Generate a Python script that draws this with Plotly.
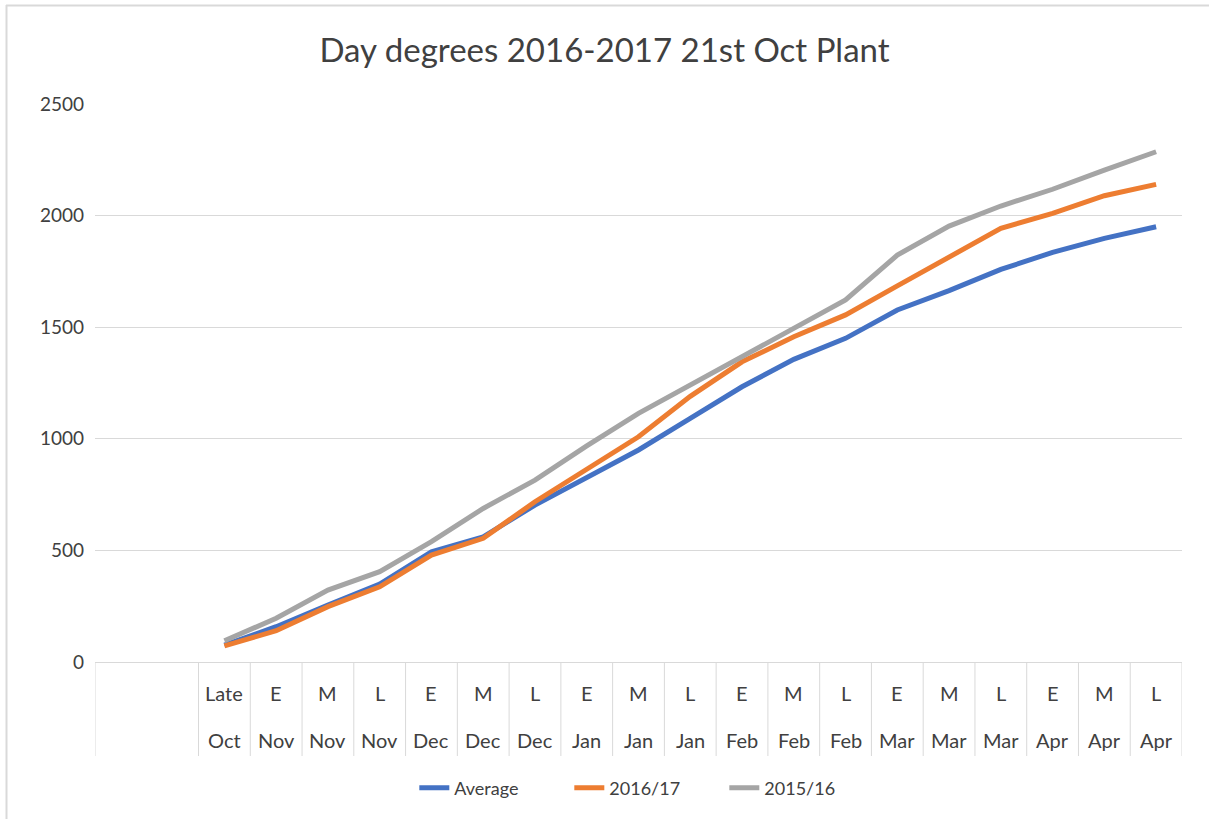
import plotly.graph_objects as go

# ---- data ----
period = ["", "", "Late", "E", "M", "L", "E", "M", "L", "E", "M", "L",
          "E", "M", "L", "E", "M", "L", "E", "M", "L"]
month = ["", "", "Oct", "Nov", "Nov", "Nov", "Dec", "Dec", "Dec", "Jan", "Jan", "Jan",
         "Feb", "Feb", "Feb", "Mar", "Mar", "Mar", "Apr", "Apr", "Apr"]
average = [None, None, 76, 158, 255, 349, 494, 561, 703, 825, 950, 1092,
           1233, 1356, 1450, 1577, 1664, 1759, 1835, 1898, 1950]
s2016_17 = [None, None, 72, 140, 248, 337, 479, 554, 718, 866, 1009, 1190,
            1345, 1457, 1555, 1685, 1816, 1943, 2010, 2089, 2140]
s2015_16 = [None, None, 95, 196, 322, 405, 539, 688, 815, 968, 1114, 1241,
            1368, 1495, 1622, 1823, 1953, 2043, 2118, 2204, 2286]
series_names = ["Average", "2016/17", "2015/16"]
series_colors = ["#4472C4", "#ED7D31", "#A5A5A5"]
y_ticks = [0, 500, 1000, 1500, 2000, 2500]

FONT = "Lato"
TXT = "#404040"

idx = list(range(len(period)))

fig = go.Figure()
for name, vals, col in zip(series_names, [average, s2016_17, s2015_16], series_colors):
    fig.add_trace(go.Scatter(x=idx, y=vals, mode="lines", name=name,
                             line=dict(color=col, width=5), connectgaps=False))

# plot area geometry in pixels (for paper-coordinate conversion)
W, H = 1209, 819
L, R, T, B = 95, 1182, 104, 662
pw, ph = R - L, B - T

def py(ypix):
    return (B - ypix) / ph

def px(xpix):
    return (xpix - L) / pw

shapes = []
# category dividers below the axis
bounds = [-0.5] + [i + 0.5 for i in range(1, len(period))]
for b in bounds:
    shapes.append(dict(type="line", xref="x", yref="paper", x0=b, x1=b,
                       y0=0, y1=py(756), line=dict(color="#D9D9D9", width=1)))
# outer chart border (top and left edges visible)
shapes.append(dict(type="line", xref="paper", yref="paper",
                   x0=px(6), x1=px(1209), y0=py(5.5), y1=py(5.5),
                   line=dict(color="#D9D9D9", width=2), layer="below"))
shapes.append(dict(type="line", xref="paper", yref="paper",
                   x0=px(6.5), x1=px(6.5), y0=py(5), y1=py(819),
                   line=dict(color="#D9D9D9", width=2), layer="below"))

annotations = []
for i, (p, m) in enumerate(zip(period, month)):
    if p:
        annotations.append(dict(x=i, y=py(693), xref="x", yref="paper", text=p,
                                showarrow=False, yanchor="middle",
                                font=dict(family=FONT, size=20, color=TXT)))
    if m:
        annotations.append(dict(x=i, y=py(740), xref="x", yref="paper", text=m,
                                showarrow=False, yanchor="middle",
                                font=dict(family=FONT, size=20, color=TXT)))

fig.update_layout(
    width=W, height=H,
    margin=dict(l=L, r=W - R, t=T, b=H - B),
    paper_bgcolor="white", plot_bgcolor="white",
    title=dict(text="Day degrees 2016-2017 21st Oct Plant", x=0.5, xref="container",
               y=1 - 50 / H, yref="container", xanchor="center", yanchor="middle",
               font=dict(family=FONT, size=33, color=TXT)),
    xaxis=dict(range=[-0.5, len(period) - 0.5], showgrid=False, zeroline=False,
               showticklabels=False, ticks="", showline=True,
               linecolor="#D9D9D9", linewidth=1),
    yaxis=dict(range=[0, 2500], tickvals=y_ticks, showgrid=True, gridcolor="#D9D9D9",
               gridwidth=1, zeroline=False, showline=False, ticks="",
               ticklabelstandoff=10,
               tickfont=dict(family=FONT, size=19, color=TXT)),
    showlegend=True,
    legend=dict(orientation="h", xref="container", yref="container",
                x=0.535, y=1 - 788 / H, xanchor="center", yanchor="middle",
                font=dict(family=FONT, size=18, color=TXT),
                entrywidth=110, tracegroupgap=0),
    shapes=shapes, annotations=annotations,
)

fig.write_html("out.html", config={"displayModeBar": False},
               post_script="document.body.style.margin='0';document.body.style.padding='0';")
